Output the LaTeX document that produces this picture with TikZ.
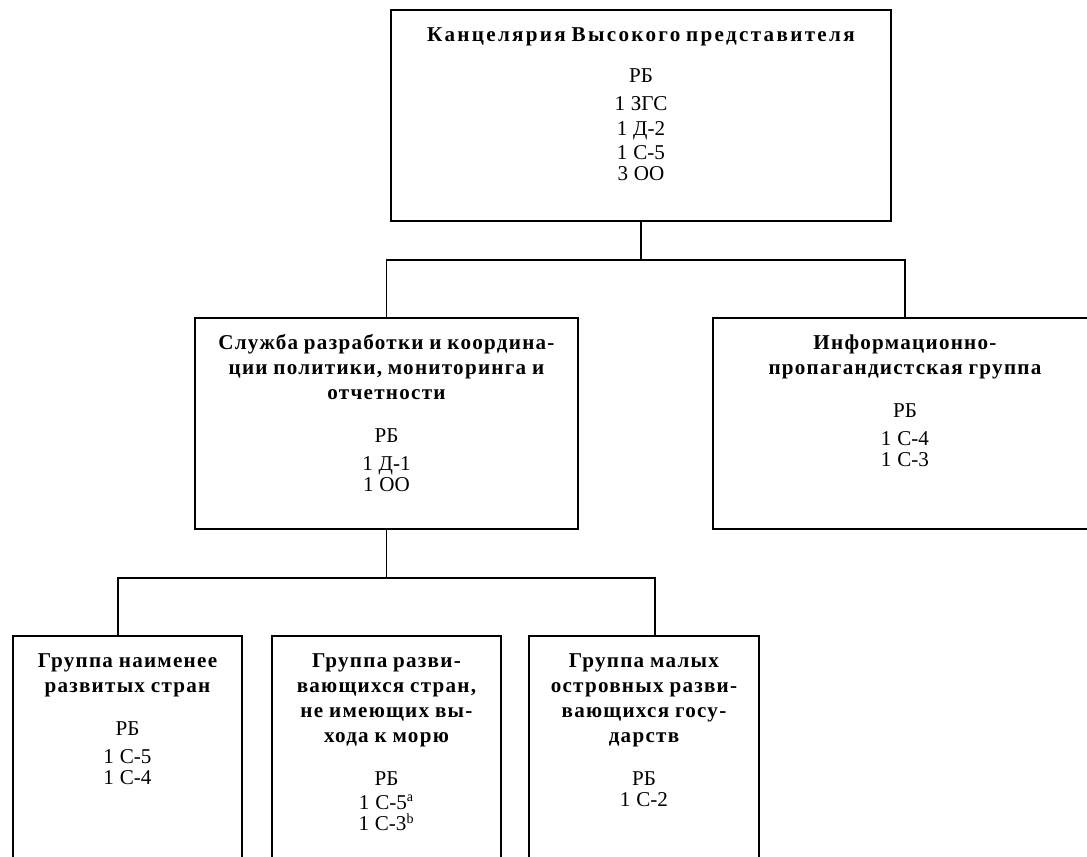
\documentclass[tikz,border=0pt]{standalone}
\usepackage{fontspec}
\setmainfont{Liberation Serif}
\newfontfamily\titlefont[LetterSpace=6,WordSpace=1.4]{Liberation Serif}
\newfontfamily\headfont[LetterSpace=11,WordSpace=2]{Liberation Serif}
\usepackage{tikz}
\usetikzlibrary{positioning,calc}

\newcommand{\unitname}{\titlefont\bfseries\fontsize{12}{14.2}\selectfont}
\newcommand{\headname}{\headfont\bfseries\fontsize{12}{14.2}\selectfont}
\newcommand{\unitbody}{\normalfont\fontsize{12}{14}\selectfont}

\tikzset{
  unit/.style={draw, line width=1.1pt, anchor=north west, inner sep=0pt,
    align=center, text height=0.64cm},
  link/.style={line width=1.1pt}
}

\begin{document}
\begin{tikzpicture}
\useasboundingbox (0,0) rectangle (21.74,-17.12);
\clip (0,0) rectangle (21.74,-17.12);

% top level
\node[unit, text width=10cm, text depth=3.58cm] (chief) at (7.8,-0.18)
  {\headname Канцелярия Высокого представителя\\[9pt]
   \unitbody РБ\\[2pt] 1 ЗГС\\ 1 Д-2\\ 1 С-5\\ 3 ОО};

% second level
\node[unit, text width=7.66cm, text depth=3.58cm] (policy) at (3.88,-6.34)
  {\unitname Служба разработки и координа-\\ции политики, мониторинга и\\отчетности\\[10pt]
   \unitbody РБ\\[2pt] 1 Д-1\\ 1 ОО};
\node[unit, text width=7.68cm, text depth=3.58cm] (outreach) at (14.24,-6.34)
  {\unitname Информационно-\\пропагандистская группа\\[10pt]
   \unitbody РБ\\[2pt] 1 С-4\\ 1 С-3};

% third level
\node[unit, text width=4.58cm, text depth=3.86cm] (ldc) at (0.24,-12.7)
  {\unitname Группа наименее\\развитых стран\\[10pt]
   \unitbody РБ\\[2pt] 1 С-5\\ 1 С-4};
\node[unit, text width=4.58cm, text depth=3.86cm] (lldc) at (5.42,-12.7)
  {\unitname Группа разви-\\вающихся стран,\\не имеющих вы-\\хода к морю\\[10pt]
   \unitbody РБ\\ 1 С-5\textsuperscript{a}\\ 1 С-3\textsuperscript{b}};
\node[unit, text width=4.6cm, text depth=3.86cm] (sids) at (10.56,-12.7)
  {\unitname Группа малых\\островных разви-\\вающихся госу-\\дарств\\[10pt]
   \unitbody РБ\\ 1 С-2};

% connectors
\coordinate (bus1) at (0,-5.2);
\coordinate (bus2) at (0,-11.56);
\draw[link] (chief.south) -- (chief.south |- bus1);
\draw[link] (policy.north) -- (policy.north |- bus1) -- (outreach.north |- bus1) -- (outreach.north);
\draw[link] (policy.south) -- (policy.south |- bus2);
\draw[link] ([xshift=-0.19cm]ldc.north) -- ([xshift=-0.19cm]ldc.north |- bus2)
  -- ([xshift=0.22cm]sids.north |- bus2) -- ([xshift=0.22cm]sids.north);
\end{tikzpicture}
\end{document}
